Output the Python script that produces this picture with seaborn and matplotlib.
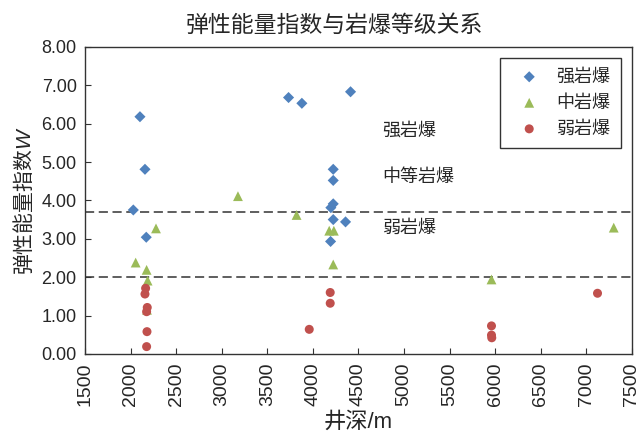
import pandas as pd
import matplotlib
matplotlib.use('Agg')
import matplotlib.pyplot as plt
import seaborn as sns

# Data
strong_depth = [2103, 2158, 2030, 2172, 3733, 3879, 4413, 4223, 4223, 4223, 4197, 4223, 4358, 4194]
strong_w = [6.18, 4.81, 3.75, 3.04, 6.68, 6.53, 6.83, 4.81, 4.52, 3.91, 3.81, 3.50, 3.44, 2.93]
medium_depth = [2056, 2176, 2187, 2180, 2279, 3178, 3821, 4179, 4230, 4223, 5959, 7300]
medium_w = [2.38, 2.19, 1.91, 1.15, 3.27, 4.11, 3.62, 3.21, 3.21, 2.33, 1.94, 3.29]
weak_depth = [2165, 2158, 2183, 2176, 2180, 2176, 3960, 4190, 4190, 5959, 5959, 5962, 7122]
weak_w = [1.71, 1.56, 1.21, 1.10, 0.58, 0.19, 0.64, 1.60, 1.32, 0.73, 0.49, 0.42, 1.58]
classes = ['强岩爆', '中岩爆', '弱岩爆']
thresholds = [3.7, 2.0]

df = pd.concat([
    pd.DataFrame({'depth': strong_depth, 'W': strong_w, 'cls': classes[0]}),
    pd.DataFrame({'depth': medium_depth, 'W': medium_w, 'cls': classes[1]}),
    pd.DataFrame({'depth': weak_depth, 'W': weak_w, 'cls': classes[2]}),
])

sns.set_style('white')
plt.rcParams['font.family'] = ['Liberation Sans', 'Noto Sans CJK SC', 'DejaVu Sans']
plt.rcParams['mathtext.fontset'] = 'custom'
plt.rcParams['mathtext.it'] = 'Liberation Sans:italic'
plt.rcParams['mathtext.rm'] = 'Liberation Sans'
text_color = '#262626'

fig = plt.figure(figsize=(6.39, 4.38), dpi=100)
ax = fig.add_axes([0.133, 0.192, 0.856, 0.701])

palette = {'强岩爆': '#4F81BD', '中岩爆': '#9BBB59', '弱岩爆': '#C0504D'}
markers = {'强岩爆': 'D', '中岩爆': '^', '弱岩爆': 'o'}
sizes = {'强岩爆': 32, '中岩爆': 50, '弱岩爆': 42}
for c in classes:
    sns.scatterplot(data=df[df['cls'] == c], x='depth', y='W', color=palette[c],
                    marker=markers[c], s=sizes[c], edgecolor='none', label=c, ax=ax, zorder=3)

for t in thresholds:
    ax.axhline(t, color='#333333', linestyle=(0, (6, 3)), linewidth=1.1, zorder=2)

ax.text(4760, 5.8, '强岩爆', fontsize=13, va='center', color=text_color)
ax.text(4760, 4.6, '中等岩爆', fontsize=13, va='center', color=text_color)
ax.text(4760, 3.28, '弱岩爆', fontsize=13, va='center', color=text_color)

ax.set_xlim(1500, 7500)
ax.set_ylim(0, 8)
ax.set_xticks(range(1500, 7501, 500))
ax.set_yticks([i for i in range(0, 9)])
ax.set_yticklabels([f'{i:.2f}' for i in range(0, 9)])
ax.tick_params(axis='x', direction='in', rotation=90, labelsize=14, length=4,
               color='#333333', labelcolor=text_color, pad=6)
ax.tick_params(axis='y', direction='in', labelsize=13, length=4,
               color='#333333', labelcolor=text_color, pad=6)
ax.tick_params(left=True, bottom=True)
for sp in ax.spines.values():
    sp.set_color('#333333')
    sp.set_linewidth(1.0)

ax.set_xlabel('井深/m', fontsize=16, labelpad=4, color=text_color)
ax.set_ylabel('弹性能量指数$\\it{W}$', fontsize=15, labelpad=4, color=text_color,
              family='Noto Sans CJK SC')
ax.set_title('弹性能量指数与岩爆等级关系', fontsize=16.5, pad=11, color=text_color, x=0.455)

leg = ax.legend(loc='upper right', frameon=True, fancybox=False, fontsize=13,
                borderpad=0.6, labelspacing=0.5, handletextpad=0.5, borderaxespad=0.6)
leg.get_frame().set_edgecolor('black')
leg.get_frame().set_linewidth(1.0)
for t in leg.get_texts():
    t.set_color(text_color)

fig.savefig('out.png', dpi=100)
